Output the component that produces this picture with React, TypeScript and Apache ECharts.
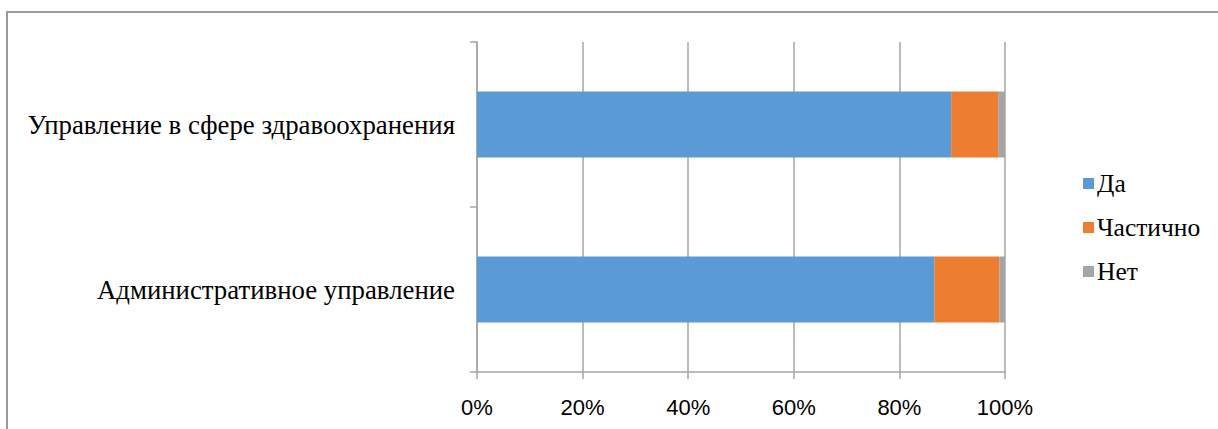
import React, { useEffect, useRef } from "react";
import * as echarts from "echarts";

const categories = ["Административное управление", "Управление в сфере здравоохранения"];
const seriesNames = ["Да", "Частично", "Нет"];
const yesValues = [86.6, 89.8];
const partialValues = [12.3, 8.9];
const noValues = [1.1, 1.3];
const xTicks = { min: 0, max: 100, interval: 20 };
const colors = ["#5B9BD5", "#ED7D31", "#A5A5A5"];

const SERIF = "'Liberation Serif', 'Times New Roman', 'DejaVu Serif'";
const SANS = "'Liberation Sans', Arial, sans-serif";

export default function App() {
  const ref = useRef<HTMLDivElement>(null);
  useEffect(() => {
    if (!ref.current) return;
    const chart = echarts.init(ref.current, undefined, { renderer: "svg" });
    const values = [yesValues, partialValues, noValues];
    chart.setOption({
      animation: false,
      color: colors,
      graphic: [
        {
          type: "rect",
          shape: { x: 7, y: 12, width: 1400, height: 600 },
          style: { fill: "none", stroke: "#9a9a9a", lineWidth: 2 },
          silent: true,
        },
      ],
      grid: { left: 477, right: 213, top: 42, bottom: 57, containLabel: false },
      legend: {
        orient: "vertical",
        left: 1078,
        top: 163,
        itemWidth: 11,
        itemHeight: 11,
        itemGap: 13,
        icon: "rect",
        textStyle: {
          fontFamily: SERIF,
          fontSize: 25.5,
          color: "#000",
          lineHeight: 31,
          padding: [0, 0, 0, -2],
        },
        data: seriesNames,
      },
      xAxis: {
        type: "value",
        min: xTicks.min,
        max: xTicks.max,
        interval: xTicks.interval,
        axisLine: { show: true, lineStyle: { color: "#a6a6a6", width: 1.5 } },
        axisTick: { show: true, length: 7, lineStyle: { color: "#a6a6a6", width: 1.5 } },
        splitLine: { show: true, lineStyle: { color: "#a6a6a6", width: 1.5 } },
        axisLabel: {
          formatter: "{value}%",
          fontFamily: SANS,
          fontSize: 22,
          color: "#000",
          margin: 24,
        },
      },
      yAxis: {
        type: "category",
        data: categories,
        axisLine: { show: true, lineStyle: { color: "#a6a6a6", width: 1.5 } },
        axisTick: { show: true, length: 7, lineStyle: { color: "#a6a6a6", width: 1.5 } },
        axisLabel: {
          fontFamily: SERIF,
          fontSize: 26.8,
          color: "#000",
          margin: 22,
        },
      },
      series: seriesNames.map((name, i) => ({
        name,
        type: "bar",
        stack: "total",
        barWidth: 66,
        data: values[i],
      })),
    });
    return () => chart.dispose();
  }, []);
  return (
    <div
      ref={ref}
      style={{ position: "fixed", left: 0, top: 0, width: 1218, height: 429, background: "#fff" }}
    />
  );
}
